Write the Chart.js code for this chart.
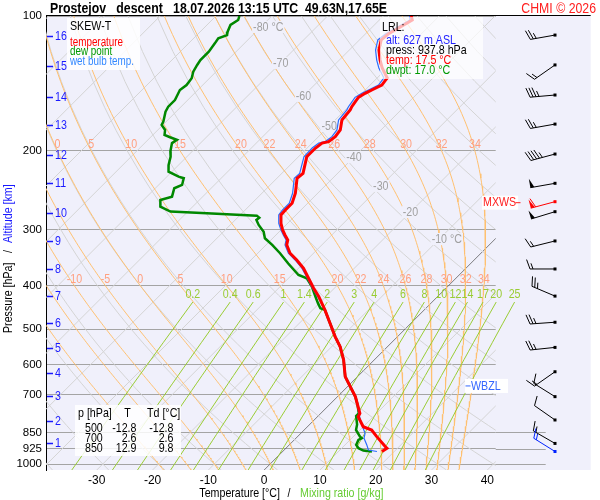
<!DOCTYPE html>
<html>
<head>
<meta charset="utf-8">
<title>Prostejov descent skew-T</title>
<script src="https://cdn.jsdelivr.net/npm/chart.js@4.4.1/dist/chart.umd.min.js"></script>
<style>
  html, body { margin: 0; padding: 0; background: #fff; }
  #box { width: 600px; height: 500px; }
</style>
</head>
<body>
<div id="box"><canvas id="skewt" width="600" height="500"></canvas></div>
<script>
// sounding (descent): pressure [hPa] / value [degC]
const tempP = [100, 102.1, 105.8, 109.7, 113.1, 119.1, 125.4, 130.6, 137.5, 142.6, 146.3, 148.8, 151.9, 159.4, 162.1, 170.6, 179.6, 185.9, 190.7, 192.2, 197.1, 206.2, 224.5, 230.2, 248.7, 261.8, 271.0, 278.0, 290.2, 300.4, 308.1, 316.1, 324.3, 338.5, 350.4, 365.6, 385.0, 405.3, 422.9, 453.0, 485.0, 519.4, 547.0, 585.5, 638.3, 672.0, 707.4, 738.4, 770.7, 784.3, 825.6, 839.7, 868.7, 914.3, 921.9, 937.8];
const tempT = [-55.0, -54.1, -55.0, -55.9, -56.1, -54.7, -52.7, -50.9, -48.2, -47.9, -48.8, -49.4, -49.9, -49.4, -49.1, -48.8, -47.3, -47.0, -47.3, -48.2, -48.5, -48.5, -46.2, -46.4, -44.0, -42.8, -42.8, -42.7, -41.2, -39.7, -38.4, -37.0, -36.3, -34.2, -31.8, -29.1, -26.4, -23.7, -21.3, -17.8, -14.5, -11.2, -8.5, -5.5, -2.2, 0.5, 3.2, 5.1, 7.0, 7.3, 10.0, 12.1, 14.2, 17.5, 18.1, 17.8];

const dewP = [100, 102.1, 104.7, 108.4, 110.3, 112.1, 115.1, 120.1, 125.4, 128.6, 133.1, 137.7, 142.6, 146.3, 154.0, 159.4, 163.5, 172.1, 175.1, 179.6, 184.3, 186.5, 189.0, 192.2, 200.6, 206.2, 215.0, 222.6, 228.4, 230.2, 238.3, 242.4, 253.1, 257.4, 266.4, 273.3, 275.6, 279.0, 281.9, 285.3, 292.7, 303.0, 313.4, 324.3, 338.5, 356.8, 378.5, 385.0, 402.0, 422.9, 438.0, 449.2, 453.0, 485.0, 519.4, 547.0, 585.5, 638.3, 672.0, 707.4, 738.4, 770.7, 781.2, 816.2, 839.7, 868.7, 875.8, 883.5, 906.5, 921.9, 933.3, 937.8];
const dewT = [-85.8, -85.3, -85.8, -85.1, -84.6, -85.6, -85.3, -84.9, -84.9, -84.6, -84.1, -83.2, -82.9, -83.2, -82.3, -82.3, -81.9, -80.5, -80.2, -78.7, -77.9, -76.5, -74.8, -75.1, -73.9, -72.9, -71.8, -70.6, -67.9, -66.7, -65.8, -66.6, -65.5, -67.0, -65.8, -63.1, -56.3, -46.9, -46.1, -46.2, -44.9, -42.8, -41.4, -38.9, -36.0, -32.7, -28.8, -26.7, -24.3, -21.9, -20.2, -18.9, -17.8, -14.5, -11.2, -8.5, -5.5, -2.2, 0.5, 3.2, 5.1, 6.8, 6.8, 8.5, 9.3, 11.2, 11.8, 11.5, 12.0, 13.0, 14.3, 16.0];

const wbP = [100, 102.1, 105.8, 109.7, 113.1, 119.1, 125.4, 130.6, 137.5, 142.6, 146.3, 148.8, 151.9, 159.4, 162.1, 170.6, 179.6, 185.9, 190.7, 192.2, 197.1, 206.2, 224.5, 230.2, 248.7, 261.8, 271.0, 278.0, 290.2, 300.4, 308.1, 316.1, 324.3, 338.5, 350.4, 365.6, 385.0, 405.3, 422.9, 453.0, 485.0, 519.4, 547.0, 585.5, 638.3, 672.0, 707.4, 738.4, 770.7, 812.3, 853.7, 875.8, 906.5, 930.5, 937.8];
const wbT = [-55.3, -54.5, -55.5, -56.4, -56.7, -55.3, -53.3, -51.5, -48.8, -48.5, -49.4, -50.0, -50.5, -50.0, -49.7, -49.4, -47.9, -47.6, -47.9, -48.8, -49.1, -49.0, -46.8, -46.9, -44.5, -43.3, -43.3, -43.1, -41.6, -40.0, -38.7, -37.3, -36.6, -34.5, -32.1, -29.4, -26.6, -23.9, -21.5, -17.8, -14.5, -11.2, -8.5, -5.5, -2.2, 0.5, 3.2, 5.1, 6.8, 9.1, 11.5, 12.2, 13.9, 15.1, 16.9];

// wind barbs: pressure, direction [deg], speed [kt]
const windP = [110.3, 128.6, 150.1, 174.3, 203.3, 236.3, 259.7, 273.4, 317.8, 367.0, 421.9, 482.6, 549.2, 622.4, 707.4, 797.5, 899.6, 937.8];
const windDir = [260, 235, 265, 260, 255, 260, 255, 253, 256, 270, 293, 266, 264, 235, 302, 305, 300, 302];
const windKt = [25, 15, 35, 25, 45, 50, 60, 50, 15, 15, 25, 25, 25, 15, 10, 10, 15, 15];
const mxwsP = 259.7;
const wbzlP = 669.5;

// launch / landing point
const lrlAlt = 627, lrlP = 937.8, lrlT = 17.5, lrlTd = 17.0;

// standard levels table
const tabP = [500, 700, 850];
const tabT = [-12.8, 2.6, 12.9];
const tabTd = [-12.8, 2.6, 9.8];

// axes
const pressTicks = [100, 200, 300, 400, 500, 600, 700, 850, 925, 1000];
const tempTicks = [-30, -20, -10, 0, 10, 20, 30, 40];
const altKm = [1, 2, 3, 4, 5, 6, 7, 8, 9, 10, 11, 12, 13, 14, 15, 16];
const altP = [896.3, 800.5, 704.0, 625.5, 550.0, 483.8, 421.7, 367.1, 317.4, 274.8, 236.3, 203.8, 175.4, 151.4, 129.3, 110.7];

// diagram background lines
const isoT = [-120, -110, -100, -90, -80, -70, -60, -50, -40, -30, -20, -10, 0, 10, 20, 30, 40];
const isoLabT = [-80, -70, -60, -50, -40, -30, -20, -10];
const isoLabP = [105.8, 127.3, 150.8, 176.0, 206.5, 239.5, 274.0, 314.6];
const dryTh = [-50, -40, -30, -20, -10, 0, 10, 20, 30, 40, 50, 60, 70, 80, 90, 100, 110, 120, 130, 140, 150, 160, 170, 180];
const thetaW = [-20, -15, -10, -5, 0, 5, 10, 15, 20, 22, 24, 26, 28, 30, 32, 34];
const thetaWLabP = [200, 400];
const mixW = [0.2, 0.4, 0.6, 1, 1.4, 2, 3, 4, 6, 8, 10, 12, 14, 17, 20, 25];
const mixTopP = 435;

const FONT = '"Liberation Sans", Arial, sans-serif';
const NARROW = 0.82;   // the original uses a narrow sans
const font = (size, bold) => (bold ? 'bold ' : '') + size + 'px ' + FONT;
const BG = '#f0f0fb';

const P_TOP = 100, P_BOT = 1031.3;
const T_MIN = -39.1, T_MAX = 41.5;
const SKEW = 34.87;   // degC per ln(p) -> 45 deg isotherms
const skewX = (t, p) => t + SKEW * Math.log(P_BOT / p);

function esat(tc) { return 6.112 * Math.exp(17.67 * tc / (tc + 243.5)); }
function dTdp(p, tk) {
  const es = esat(tk - 273.15), rs = 0.622 * es / (p - es);
  const L = 2.501e6;
  return (287.04 * tk + L * rs) / p / (1005.7 + L * L * rs * 0.622 / (287.04 * tk * tk));
}
function moistCurve(tw) {
  let p = 1000, t = tw + 273.15;
  const step = dp => {
    const k1 = dTdp(p, t);
    const k2 = dTdp(p + dp / 2, t + k1 * dp / 2);
    t += k2 * dp; p += dp;
  };
  const up = [{ p, t }];
  while (p > P_TOP + 1e-6) { step(-Math.min(5, p - P_TOP)); up.push({ p, t }); }
  p = 1000; t = tw + 273.15;
  const down = [];
  while (p < P_BOT - 1e-6) { step(Math.min(5, P_BOT - p)); down.push({ p, t }); }
  return up.reverse().concat(down).map(o => ({ p: o.p, t: o.t - 273.15 }));
}
function dryCurve(th) {
  const out = [];
  for (let p = P_TOP; p < P_BOT; p += 20) out.push({ p, t: (th + 273.15) * Math.pow(p / 1000, 0.2857) - 273.15 });
  out.push({ p: P_BOT, t: (th + 273.15) * Math.pow(P_BOT / 1000, 0.2857) - 273.15 });
  return out;
}
function tdFromW(w, p) {
  const l = Math.log(w * p / (622 + w) / 6.112);
  return 243.5 * l / (17.67 - l);
}
function mixCurve(w) {
  const out = [];
  for (let p = mixTopP; p < P_BOT; p += 25) out.push({ p, t: tdFromW(w, p) });
  out.push({ p: P_BOT, t: tdFromW(w, P_BOT) });
  return out;
}
const toXY = list => list.map(o => ({ x: skewX(o.t, o.p), y: o.p }));
const pts = (P, T) => P.map((p, i) => ({ x: skewX(T[i], p), y: p }));
const curve = (data, color, width, extra) => Object.assign({
  data, borderColor: color, borderWidth: width, showLine: true,
  pointRadius: 0, pointHoverRadius: 0, fill: false
}, extra || {});

const moistCurves = thetaW.map(moistCurve);

const datasets = [
  curve(pts(tempP, tempT), '#ff0000', 3),
  curve(pts(wbP, wbT), '#2a6cff', 1.2),
  curve(pts(dewP, dewT), '#008800', 2.5)
];
mixW.forEach(w => datasets.push(curve(toXY(mixCurve(w)), '#99cc33', 1, { clip: { left: 0, top: 0, right: 100, bottom: 0 } })));
moistCurves.forEach(c => datasets.push(curve(toXY(c), '#ffc070', 1)));
dryTh.forEach(th => datasets.push(curve(toXY(dryCurve(th)), '#d4d4d4', 1)));
isoT.forEach(t => datasets.push(curve([{ x: skewX(t, P_TOP), y: P_TOP }, { x: skewX(t, P_BOT), y: P_BOT }],
  t === 0 ? '#606060' : '#d4d4d4', t === 0 ? 0.8 : 1)));

function interpT(c, p) {
  for (let j = 0; j < c.length - 1; j++) {
    if (c[j].p <= p && c[j + 1].p >= p) {
      const f = (p - c[j].p) / (c[j + 1].p - c[j].p);
      return c[j].t + f * (c[j + 1].t - c[j].t);
    }
  }
  return null;
}

function drawBarb(ctx, x0, y0, dir, kt, color) {
  const r = dir * Math.PI / 180;
  const ux = Math.sin(r), uy = -Math.cos(r);
  const nx = -uy, ny = ux;
  const fx = nx * 0.94 + ux * 0.34, fy = ny * 0.94 + uy * 0.34;
  const L = 25;
  const tx = x0 + ux * L, ty = y0 + uy * L;
  ctx.strokeStyle = color; ctx.fillStyle = color; ctx.lineWidth = 1;
  ctx.beginPath(); ctx.moveTo(x0, y0); ctx.lineTo(tx, ty); ctx.stroke();
  ctx.fillRect(x0 - 1.5, y0 - 1.5, 3, 3);
  let rem = Math.round(kt / 5) * 5, d = 0;
  while (rem >= 50) {
    const ax = tx - ux * d, ay = ty - uy * d;
    ctx.beginPath();
    ctx.moveTo(ax, ay);
    ctx.lineTo(ax - ux * 4, ay - uy * 4);
    ctx.lineTo(ax + nx * 9, ay + ny * 9);
    ctx.closePath(); ctx.fill();
    rem -= 50; d += 5;
  }
  while (rem >= 10) {
    const ax = tx - ux * d, ay = ty - uy * d;
    ctx.beginPath(); ctx.moveTo(ax, ay); ctx.lineTo(ax + fx * 10, ay + fy * 10); ctx.stroke();
    rem -= 10; d += 3;
  }
  if (rem >= 5) {
    if (d === 0) d = 3;
    const ax = tx - ux * d, ay = ty - uy * d;
    ctx.beginPath(); ctx.moveTo(ax, ay); ctx.lineTo(ax + fx * 6, ay + fy * 6); ctx.stroke();
  }
}

// narrow text: regular sans squeezed horizontally
function text(ctx, s, x, y, color, size, align, bold) {
  ctx.save();
  ctx.font = font(size, bold);
  ctx.fillStyle = color;
  ctx.textAlign = align || 'left';
  ctx.textBaseline = 'middle';
  ctx.translate(x, y);
  ctx.scale(NARROW, 1);
  ctx.fillText(s, 0, 0);
  ctx.restore();
}
function textW(ctx, s, size, bold) {
  ctx.font = font(size, bold);
  return ctx.measureText(s).width * NARROW;
}

const decor = {
  id: 'decor',
  beforeDraw(chart) {
    const { ctx, chartArea: a } = chart;
    ctx.save();
    ctx.fillStyle = '#fff';
    ctx.fillRect(0, 0, chart.width, chart.height);
    ctx.fillStyle = BG;
    ctx.fillRect(a.left, a.top, a.right - a.left + 95, a.bottom - a.top);
    ctx.restore();
  },
  beforeDatasetsDraw(chart) {
    const { ctx, chartArea: a, scales: { y } } = chart;
    ctx.save();
    ctx.strokeStyle = '#a4a4a4'; ctx.lineWidth = 1;
    pressTicks.filter(p => p >= 850).forEach(p => {
      const py = Math.round(y.getPixelForValue(p)) + 0.5;
      ctx.beginPath(); ctx.moveTo(a.right, py); ctx.lineTo(a.right + 50, py); ctx.stroke();
    });
    ctx.restore();
  },
  beforeDatasetDraw(chart, args) {
    if (args.index !== 2) return;
    const { ctx, chartArea: a, scales: { x, y } } = chart;
    const px = (t, p) => x.getPixelForValue(skewX(t, p));
    ctx.save();
    // isotherm labels
    isoLabT.forEach((t, i) => {
      const p = isoLabP[i], cx = px(t, p), cy = y.getPixelForValue(p);
      const s = String(t), w = textW(ctx, s, 13);
      const unit = (i === 0 || i === isoLabT.length - 1) ? ' \u00b0C' : '';
      const uw = unit ? textW(ctx, unit, 13) : 0;
      ctx.fillStyle = BG;
      ctx.fillRect(cx - w / 2 - 1, cy - 6, w + uw + 2, 12);
      text(ctx, s, cx, cy, '#a0a0a0', 13, 'center');
      if (unit) text(ctx, unit, cx + w / 2, cy, '#a0a0a0', 13, 'left');
    });
    // moist adiabat labels
    thetaWLabP.forEach(p => {
      const cy = y.getPixelForValue(p) - 6;
      thetaW.forEach((tw, i) => {
        const t = interpT(moistCurves[i], p);
        if (t === null) return;
        const cx = px(t, p);
        if (cx < a.left + 4 || cx > a.right - 4) return;
        text(ctx, String(tw), cx, cy, '#ffa080', 13, 'center');
      });
    });
    // mixing ratio labels
    const my = y.getPixelForValue(mixTopP) - 8;
    mixW.forEach(w => text(ctx, String(w), px(tdFromW(w, mixTopP), mixTopP), my, '#99cc33', 13, 'center'));
    ctx.restore();
  },
  afterDatasetsDraw(chart) {
    const { ctx, chartArea: a, scales: { y } } = chart;
    ctx.save();
    // legend box
    ctx.fillStyle = 'rgba(255,255,255,0.85)';
    ctx.fillRect(67, 18, 73, 52);
    text(ctx, 'SKEW-T', 70, 26, '#000', 13);
    text(ctx, 'temperature', 70, 42.5, '#ff0000', 12);
    text(ctx, 'dew point', 70, 52, '#009900', 12);
    text(ctx, 'wet bulb temp.', 70, 61.5, '#3388ff', 12);
    // LRL box
    ctx.fillStyle = 'rgba(255,255,255,0.7)';
    ctx.fillRect(380, 17, 103, 62);
    text(ctx, 'LRL:', 382, 27.5, '#000', 13);
    text(ctx, 'alt: ' + lrlAlt + ' m ASL', 386, 40, '#2222ff', 13);
    text(ctx, 'press: ' + lrlP.toFixed(1) + ' hPa', 386, 50.8, '#000', 13);
    text(ctx, 'temp: ' + lrlT.toFixed(1) + ' \u00b0C', 386, 60.8, '#ff0000', 13);
    text(ctx, 'dwpt: ' + lrlTd.toFixed(1) + ' \u00b0C', 386, 70.8, '#009900', 13);
    // standard levels table
    ctx.fillStyle = 'rgba(255,255,255,0.85)';
    ctx.fillRect(75, 405, 106, 51);
    text(ctx, 'p [hPa]', 78, 413.5, '#000', 13);
    text(ctx, 'T', 127.5, 413.5, '#000', 13, 'center');
    text(ctx, 'Td [\u00b0C]', 147, 413.5, '#000', 13);
    tabP.forEach((p, i) => {
      const ry = 428.5 + i * 10;
      text(ctx, String(p), 85, ry, '#000', 13);
      text(ctx, tabT[i].toFixed(1), 136.5, ry, '#000', 13, 'right');
      text(ctx, tabTd[i].toFixed(1), 173.5, ry, '#000', 13, 'right');
    });
    // MXWS and WBZL marks
    const my = y.getPixelForValue(mxwsP) + 1;
    ctx.fillStyle = '#fff';
    ctx.fillRect(482, my - 7, textW(ctx, 'MXWS', 13) + 3, 14);
    text(ctx, 'MXWS', 483, my, '#ff2020', 13);
    ctx.strokeStyle = '#ff2020'; ctx.lineWidth = 1;
    ctx.beginPath(); ctx.moveTo(515.5, my); ctx.lineTo(520.5, my); ctx.stroke();
    const wy = y.getPixelForValue(wbzlP);
    ctx.fillStyle = '#fff';
    ctx.fillRect(465, wy - 7, 43, 14);
    ctx.strokeStyle = '#3366ff';
    ctx.beginPath(); ctx.moveTo(465.5, wy); ctx.lineTo(470.5, wy); ctx.stroke();
    text(ctx, 'WBZL', 471, wy, '#3366ff', 13);
    // wind barbs
    const sx = a.right + 59.3;
    windP.forEach((p, i) => {
      const col = p === mxwsP ? '#ff0000' : (p === lrlP ? '#0022ff' : '#000');
      drawBarb(ctx, sx, y.getPixelForValue(p), windDir[i], windKt[i], col);
    });
    // altitude marks
    altKm.forEach((km, i) => {
      const ay = Math.round(y.getPixelForValue(altP[i])) + 0.5;
      ctx.strokeStyle = '#1a1aff'; ctx.lineWidth = 1.5;
      ctx.beginPath(); ctx.moveTo(a.left + 1, ay); ctx.lineTo(a.left + 7, ay); ctx.stroke();
      text(ctx, String(km), a.left + 9, ay, '#1a1aff', 13);
    });
    // top frame line
    ctx.strokeStyle = '#000'; ctx.lineWidth = 1;
    ctx.beginPath(); ctx.moveTo(a.left, a.top - 0.5); ctx.lineTo(a.right + 95, a.top - 0.5); ctx.stroke();
    ctx.restore();
  },
  afterDraw(chart) {
    const { ctx } = chart;
    ctx.save();
    text(ctx, 'Prostejov   descent   18.07.2026 13:15 UTC  49.63N,17.65E', 50, 8.5, '#000', 15, 'left', true);
    text(ctx, 'CHMI \u00a9 2026', 596, 8.5, '#ff2020', 15, 'right');
    // x axis title
    text(ctx, 'Temperature [\u00b0C]', 280, 493, '#000', 13, 'right');
    text(ctx, '/', 289, 493, '#000', 13, 'center');
    text(ctx, 'Mixing ratio [g/kg]', 300, 493, '#66cc33', 13, 'left');
    // y axis title
    ctx.translate(8, 0);
    ctx.rotate(-Math.PI / 2);
    text(ctx, 'Pressure [hPa]', -333, 0, '#000', 13, 'left');
    text(ctx, '/', -251.5, 0, '#000', 13, 'center');
    text(ctx, 'Altitude [km]', -243, 0, '#1a1aff', 13, 'left');
    ctx.restore();
  }
};

new Chart(document.getElementById('skewt'), {
  type: 'scatter',
  data: { datasets },
  options: {
    responsive: false,
    animation: false,
    events: [],
    layout: { padding: { top: 16, right: 104.3, left: 0, bottom: 0 } },
    plugins: { legend: { display: false }, tooltip: { enabled: false } },
    scales: {
      x: {
        type: 'linear', min: T_MIN, max: T_MAX,
        afterBuildTicks: s => { s.ticks = tempTicks.map(v => ({ value: v })); },
        afterFit: s => { s.height = 30; },
        grid: { display: false, drawTicks: false },
        border: { display: false },
        ticks: { color: '#000', font: { family: FONT, size: 12 }, padding: 3, maxRotation: 0, autoSkip: false }
      },
      y: {
        type: 'logarithmic', reverse: true, min: P_TOP, max: P_BOT,
        afterBuildTicks: s => { s.ticks = pressTicks.map(v => ({ value: v })); },
        afterFit: s => { s.width = 46; },
        grid: { color: '#a4a4a4', lineWidth: 1, drawTicks: false },
        border: { display: true, color: '#000', width: 1 },
        ticks: { color: '#000', font: { family: FONT, size: 11.5 }, padding: 4, autoSkip: false, callback: v => String(v) }
      }
    }
  },
  plugins: [decor]
});
</script>
</body>
</html>
